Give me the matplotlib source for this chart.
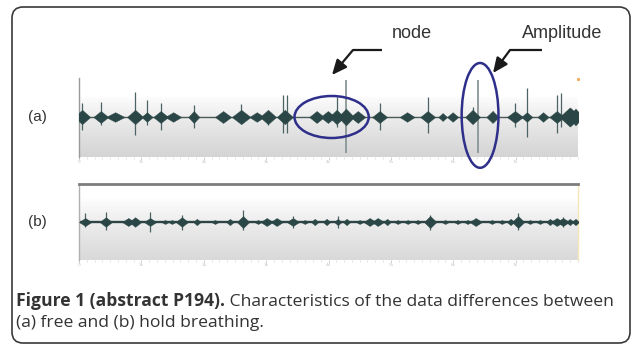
import numpy as np
import matplotlib
matplotlib.use("Agg")
import matplotlib.pyplot as plt
from matplotlib.patches import FancyBboxPatch, Ellipse

W, H = 633, 345

# ---------------- data ----------------
tick_labels = ["0", "1s", "2s", "3s", "4s", "5s", "6s", "7s"]
tick_pos = [0, 1, 2, 3, 4, 5, 6, 7]

# panel (a): free breathing - burst positions (s), half-heights, half-widths (s)
a_t = [0.05, 0.35, 0.58, 0.90, 1.09, 1.31, 1.51, 1.84, 2.31, 2.60, 2.85, 3.03, 3.30,
       3.81, 3.99, 4.13, 4.28, 4.47, 4.82, 5.26, 5.59, 5.83, 5.99, 6.31, 6.63, 6.99,
       7.18, 7.44, 7.66, 7.87, 7.96]
a_h = [0.18, 0.15, 0.12, 0.18, 0.12, 0.15, 0.12, 0.15, 0.15, 0.18, 0.12, 0.18, 0.18,
       0.15, 0.15, 0.18, 0.21, 0.15, 0.15, 0.12, 0.15, 0.10, 0.12, 0.18, 0.15, 0.15,
       0.12, 0.12, 0.15, 0.24, 0.21]
a_w = [0.13, 0.12, 0.15, 0.13, 0.09, 0.12, 0.13, 0.09, 0.13, 0.15, 0.12, 0.13, 0.13,
       0.12, 0.12, 0.12, 0.13, 0.12, 0.12, 0.12, 0.12, 0.07, 0.09, 0.12, 0.10, 0.13,
       0.09, 0.09, 0.12, 0.17, 0.12]
# spikes in (a): position, height above, depth below
a_spk_t = [0.05, 0.35, 0.90, 1.09, 1.31, 1.84, 2.60, 3.03, 3.27, 3.33, 4.13, 4.82,
           5.59, 6.31, 6.63, 6.99, 7.18, 7.66, 7.72]
a_spk_up = [0.35, 0.38, 0.62, 0.42, 0.35, 0.30, 0.32, 0.15, 0.55, 0.55, 0.50, 0.35,
            0.50, 0.25, 0.15, 0.35, 0.72, 0.55, 0.60]
a_spk_dn = [0.32, 0.20, 0.45, 0.20, 0.32, 0.28, 0.12, 0.20, 0.40, 0.40, 0.25, 0.32,
            0.40, 0.10, 0.10, 0.25, 0.50, 0.40, 0.25]
# tall full-range lines in (a)
a_tall_t = [4.28, 6.39]
a_tall_up = [0.93, 0.93]
a_tall_dn = [0.90, 0.90]

# panel (b): hold breathing
b_t = [0.10, 0.43, 0.79, 0.90, 1.14, 1.38, 1.49, 1.65, 1.89, 2.18, 2.42, 2.63, 2.87,
       3.01, 3.17, 3.43, 3.62, 3.78, 3.97, 4.15, 4.29, 4.50, 4.66, 4.79, 4.94, 5.11,
       5.27, 5.43, 5.63, 5.87, 6.07, 6.23, 6.36, 6.62, 6.78, 6.92, 7.04, 7.23, 7.39,
       7.55, 7.66, 7.76, 7.87, 7.96]
b_h = [0.10, 0.12, 0.10, 0.12, 0.10, 0.05, 0.05, 0.12, 0.08, 0.05, 0.08, 0.15, 0.05,
       0.10, 0.10, 0.10, 0.05, 0.08, 0.08, 0.08, 0.08, 0.05, 0.10, 0.10, 0.08, 0.05,
       0.05, 0.05, 0.15, 0.05, 0.05, 0.05, 0.10, 0.05, 0.05, 0.08, 0.15, 0.05, 0.05,
       0.08, 0.10, 0.10, 0.08, 0.08]
b_spk_t = [0.10, 0.43, 1.14, 1.65, 2.63, 3.43, 4.15, 5.63, 7.04, 7.76]
b_spk_up = [0.22, 0.25, 0.25, 0.18, 0.30, 0.15, 0.15, 0.18, 0.22, 0.12]
b_spk_dn = [0.12, 0.20, 0.25, 0.20, 0.20, 0.15, 0.15, 0.20, 0.20, 0.12]

panel_labels = ["(a)", "(b)"]
annot_texts = ["node", "Amplitude"]
caption_bold = "Figure 1 (abstract P194)."
caption_line1 = " Characteristics of the data differences between"
caption_line2 = "(a) free and (b) hold breathing."

WAVE = "#2b4646"
SPIKE = "#4d6363"
ELL = "#2e2f8a"

fig = plt.figure(figsize=(W / 100, H / 100), dpi=100)


def px_axes(left, top, right, bottom, **kw):
    return fig.add_axes([left / W, 1 - bottom / H, (right - left) / W, (bottom - top) / H], **kw)


def gradient(ax, ylim, white_frac, bottom_val):
    n = 200
    rows = np.linspace(0, 1, n)  # 0 = top
    g = np.where(rows < white_frac, 1.0,
                 1.0 - (1.0 - bottom_val) * ((rows - white_frac) / (1 - white_frac)) ** 0.8)
    img = np.repeat(g[:, None], 2, axis=1)
    ax.imshow(img, cmap="gray", vmin=0, vmax=1, aspect="auto",
              extent=[0, 8, ylim[0], ylim[1]], zorder=0, interpolation="bilinear")


def burst(ax, t, h, w):
    s = np.linspace(-1, 1, 41)
    env = h * (1 - np.abs(s)) ** 1.0
    ax.fill_between(t + w * s, -env, env, color=WAVE, lw=0.3, ec=WAVE, zorder=3)


def style_ticks(ax):
    ax.set_xticks(tick_pos)
    ax.set_xticklabels(tick_labels, fontsize=3.2, color="#c4c4c4")
    ax.set_xticks(np.arange(0, 8.01, 0.125), minor=True)
    ax.tick_params(axis="x", which="major", length=2, width=0.6, color="#c8c8c8", pad=0.5)
    ax.tick_params(axis="x", which="minor", length=1.2, width=0.6, color="#dcdcdc")
    ax.set_yticks([])


# ---------- panel (a) ----------
ax_a = px_axes(79, 78, 578, 157)
ylim_a = (-1.0, 0.975)
gradient(ax_a, ylim_a, 0.22, 0.83)
ax_a.set_xlim(0, 8)
ax_a.set_ylim(*ylim_a)
ax_a.axhline(0, color="#4a5858", lw=1.0, zorder=2)
for t, h, w in zip(a_t, a_h, a_w):
    burst(ax_a, t, h, w)
ax_a.vlines(a_spk_t, [-d for d in a_spk_dn], a_spk_up, color=SPIKE, lw=0.9, zorder=2)
ax_a.vlines(a_tall_t, [-d for d in a_tall_dn], a_tall_up, color="#8a9696", lw=1.3, zorder=2)
for s in ["top", "right", "bottom"]:
    ax_a.spines[s].set_visible(False)
ax_a.spines["left"].set_color("#9a9a9a")
ax_a.spines["left"].set_linewidth(1.0)
style_ticks(ax_a)
ax_a.plot([8], [0.95], marker="s", ms=1.2, color="#f0b060", clip_on=False, zorder=4)

# ellipses
ax_a.add_patch(Ellipse((4.05, 0.0), 1.19, 1.05, fill=False, ec=ELL, lw=1.8,
                       clip_on=False, zorder=6))
ax_a.add_patch(Ellipse((6.43, 0.04), 0.59, 2.62, fill=False, ec=ELL, lw=1.8,
                       clip_on=False, zorder=6))

# ---------- panel (b) ----------
ax_b = px_axes(79, 184, 578, 260)
ylim_b = (-0.95, 0.95)
gradient(ax_b, ylim_b, 0.18, 0.85)
ax_b.set_xlim(0, 8)
ax_b.set_ylim(*ylim_b)
ax_b.axhline(0, color="#2f4444", lw=1.7, zorder=2)
for t, h in zip(b_t, b_h):
    burst(ax_b, t, h, 0.10 if h >= 0.1 else 0.06)
ax_b.vlines(b_spk_t, [-d for d in b_spk_dn], b_spk_up, color=SPIKE, lw=0.9, zorder=2)
ax_b.spines["bottom"].set_visible(False)
ax_b.spines["top"].set_color("#7d7d7d")
ax_b.spines["top"].set_linewidth(2.0)
ax_b.spines["left"].set_color("#b0b0b0")
ax_b.spines["left"].set_linewidth(1.0)
ax_b.spines["right"].set_color("#f3e6b8")
ax_b.spines["right"].set_linewidth(1.0)
style_ticks(ax_b)

# ---------- overlay (pixel coordinates) ----------
ov = fig.add_axes([0, 0, 1, 1], zorder=10)
ov.set_xlim(0, W)
ov.set_ylim(H, 0)
ov.axis("off")
ov.patch.set_alpha(0)

ov.add_patch(FancyBboxPatch((12, 7), 618, 336, boxstyle="round,pad=0,rounding_size=11",
                            fill=False, ec="#3a3a3a", lw=1.2))

lab_font = dict(family="Liberation Sans", fontsize=11, color="#333333")
ov.text(28, 117, panel_labels[0], va="center", ha="left", **lab_font)
ov.text(28, 222, panel_labels[1], va="center", ha="left", **lab_font)

ann_font = dict(family="Liberation Sans", fontsize=13, color="#333333")
ov.text(392, 34, annot_texts[0], va="center", ha="left", **ann_font)
ov.text(522, 34, annot_texts[1], va="center", ha="left", **ann_font)

# arrows: horizontal tail then angled head
for (x0, x1, tipx, tipy) in [(382, 353, 332, 75), (542, 510, 493, 73)]:
    ov.plot([x0, x1], [50, 50], color="#1a1a1a", lw=1.6, solid_capstyle="butt")
    ov.annotate("", xy=(tipx, tipy), xytext=(x1, 50),
                arrowprops=dict(arrowstyle="-|>,head_length=0.9,head_width=0.4",
                                color="#1a1a1a", lw=1.6, shrinkA=0, shrinkB=0))

cap_font = dict(family="Open Sans", fontsize=12.6, color="#333333")
tb = ov.text(16, 306, caption_bold, va="baseline", ha="left", fontweight="bold", **cap_font)
fig.canvas.draw()
bb = tb.get_window_extent()
x_end = bb.x1  # display px (same as figure px at dpi 100)
ov.text(x_end, 306, caption_line1, va="baseline", ha="left", **cap_font)
ov.text(16, 327, caption_line2, va="baseline", ha="left", **cap_font)

fig.savefig("out.png", dpi=100)
